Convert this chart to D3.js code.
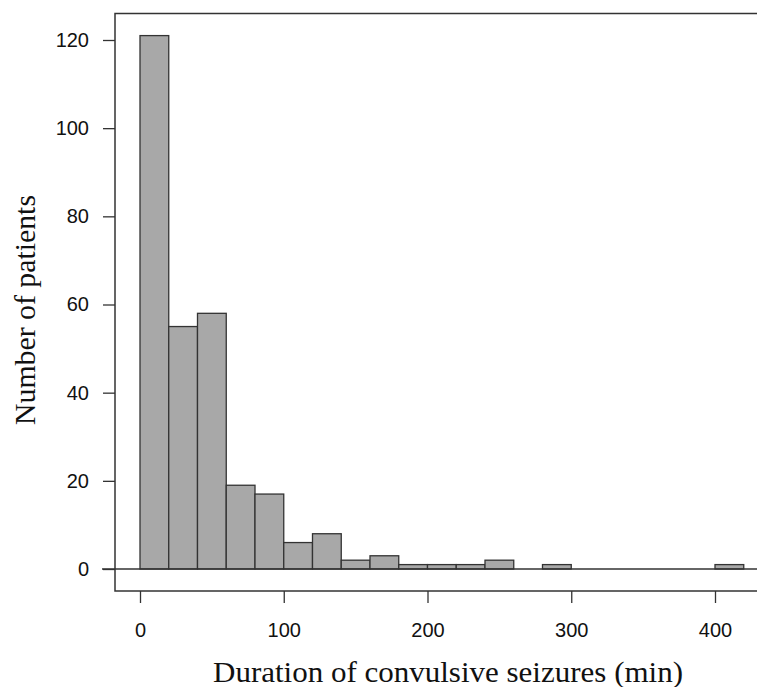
<!DOCTYPE html>
<html><head><meta charset="utf-8">
<script src="https://cdn.jsdelivr.net/npm/d3@7"></script>
<style>body{margin:0;background:#fff}svg{display:block}</style>
</head><body>
<svg id="c" width="757" height="687"></svg>
<script>
const binStarts = [0,20,40,60,80,100,120,140,160,180,200,220,240,260,280,300,320,340,360,380,400];
const binWidth = 20;
const counts = [121,55,58,19,17,6,8,2,3,1,1,1,2,0,1,0,0,0,0,0,1];
const xTicks = [0,100,200,300,400];
const yTicks = [0,20,40,60,80,100,120];
const xLabel = "Duration of convulsive seizures (min)";
const yLabel = "Number of patients";

const svg = d3.select("#c");
const x = d3.scaleLinear().domain([0,400]).range([140,715]);
const y = d3.scaleLinear().domain([0,120]).range([569,40]);
const boxL = 115, boxT = 13.5, boxB = 591, boxR = 770;
const stroke = "#333";

// box
svg.append("path")
  .attr("d", `M${boxR},${boxT}H${boxL}V${boxB}H${boxR}`)
  .attr("fill","none").attr("stroke",stroke).attr("stroke-width",1.5);

// bars
const data = binStarts.map((s,i)=>({s, c:counts[i]})).filter(d=>d.c>0);
svg.append("g").selectAll("rect").data(data).join("rect")
  .attr("x", d=>x(d.s)).attr("width", d=>x(d.s+binWidth)-x(d.s))
  .attr("y", d=>y(d.c)).attr("height", d=>y(0)-y(d.c))
  .attr("fill","#a8a8a8").attr("stroke",stroke).attr("stroke-width",1.3);

// zero line
svg.append("line").attr("x1",102).attr("x2",boxR).attr("y1",y(0)).attr("y2",y(0))
  .attr("stroke",stroke).attr("stroke-width",1.3);

const tickFont = "'Liberation Sans', Arial, sans-serif";
// y axis ticks
const yAxis = d3.axisLeft(y).tickValues(yTicks).tickSize(12).tickPadding(14).tickFormat(d3.format("d"));
const gy = svg.append("g").attr("transform",`translate(${boxL},0)`).call(yAxis);
gy.select(".domain").remove();
gy.selectAll(".tick line").attr("stroke",stroke).attr("stroke-width",1.3);
gy.selectAll(".tick text").attr("font-family",tickFont).attr("font-size",20).attr("fill","#111");

// x axis ticks
const xAxis = d3.axisBottom(x).tickValues(xTicks).tickSize(12).tickPadding(20).tickFormat(d3.format("d"));
const gx = svg.append("g").attr("transform",`translate(0,${boxB})`).call(xAxis);
gx.select(".domain").remove();
gx.selectAll(".tick line").attr("stroke",stroke).attr("stroke-width",1.3);
gx.selectAll(".tick text").attr("font-family",tickFont).attr("font-size",20).attr("fill","#111");

// labels
const serif = "'Liberation Serif','Times New Roman',serif";
svg.append("text").attr("x",448).attr("y",682).attr("text-anchor","middle")
  .attr("font-family",serif).attr("font-size",29).attr("fill","#111")
  .attr("textLength",470).attr("lengthAdjust","spacingAndGlyphs")
  .text(xLabel);
svg.append("text").attr("transform","translate(35,310) rotate(-90)").attr("text-anchor","middle")
  .attr("font-family",serif).attr("font-size",29).attr("fill","#111")
  .attr("textLength",230).attr("lengthAdjust","spacingAndGlyphs")
  .text(yLabel);
</script>
</body></html>
